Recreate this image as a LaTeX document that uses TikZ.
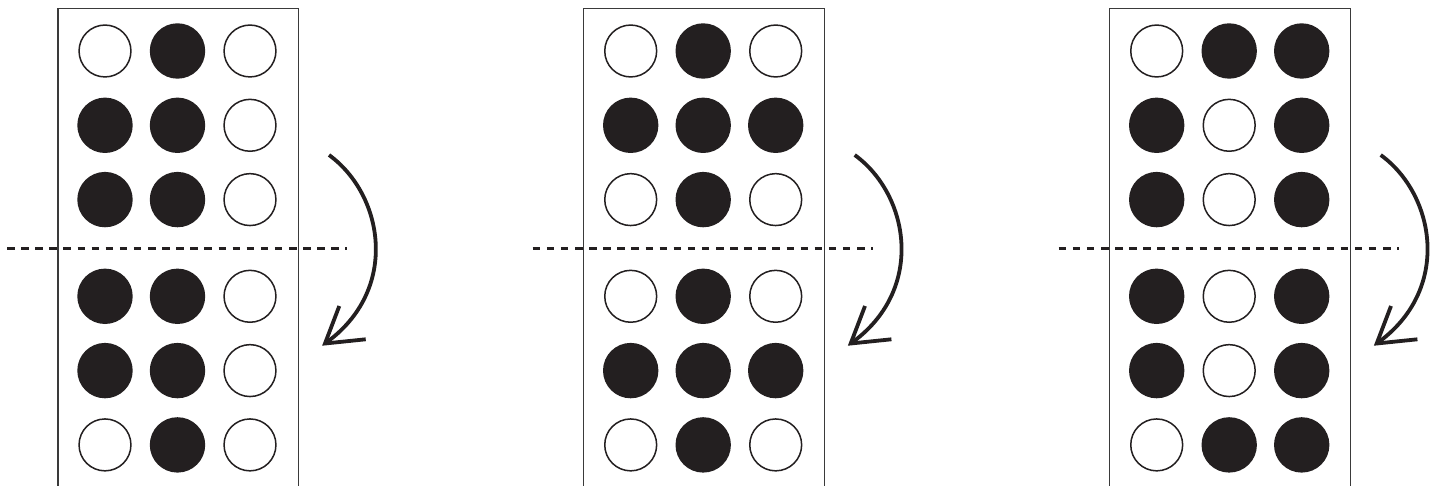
\documentclass[tikz,border=0pt]{standalone}
\usetikzlibrary{calc}
\definecolor{ink}{HTML}{231F20}
\definecolor{boxline}{HTML}{3A3A3A}
\tikzset{
  dotbase/.style={circle, inner sep=0pt, outer sep=0pt},
  dotfull/.style={dotbase, fill=ink, minimum size=55.4pt},
  dotempty/.style={dotbase, draw=ink, line width=1.5pt, fill=white, minimum size=51.9pt},
  cellbox/.style={draw=boxline, line width=1.5pt},
  foldline/.style={draw=ink, line width=2.6pt, dash pattern=on 7.5pt off 6.6pt},
  turnarrow/.style={draw=ink, line width=3.8pt},
}
\begin{document}
\begin{tikzpicture}[x=1pt,y=-1pt]
\useasboundingbox[fill=white] (0,0) rectangle (1440,486);
\foreach \off/\n/\cells in {
  0/A/{1/1/empty,1/2/full,1/3/empty,2/1/full,2/2/full,2/3/empty,3/1/full,3/2/full,3/3/empty,4/1/full,4/2/full,4/3/empty,5/1/full,5/2/full,5/3/empty,6/1/empty,6/2/full,6/3/empty},
  525.7/B/{1/1/empty,1/2/full,1/3/empty,2/1/full,2/2/full,2/3/full,3/1/empty,3/2/full,3/3/empty,4/1/empty,4/2/full,4/3/empty,5/1/full,5/2/full,5/3/full,6/1/empty,6/2/full,6/3/empty},
  1051.7/C/{1/1/empty,1/2/full,1/3/full,2/1/full,2/2/empty,2/3/full,3/1/full,3/2/empty,3/3/full,4/1/full,4/2/empty,4/3/full,5/1/full,5/2/empty,5/3/full,6/1/empty,6/2/full,6/3/full}%
}{
  \begin{scope}[xshift=\off pt]
    % box (open at the bottom, runs off the page)
    \coordinate (\n-bl) at (58,492);
    \coordinate (\n-tl) at (58,8.7);
    \coordinate (\n-tr) at (298.7,8.7);
    \coordinate (\n-br) at (298.7,492);
    \draw[cellbox] (\n-bl) -- (\n-tl) -- (\n-tr) -- (\n-br);
    % dots
    \foreach \r/\c/\f in \cells {
      \pgfmathsetmacro{\dx}{105+(\c-1)*72.5}
      \pgfmathsetmacro{\dy}{51+(\r-1)*74.3+(\r>3)*22.4}
      \node[dot\f] (\n-\r-\c) at (\dx,\dy) {};
    }
    % fold line
    \coordinate (\n-dl) at (7,248.7);
    \coordinate (\n-dr) at (347,248.7);
    \draw[foldline] (\n-dl) -- (\n-dr);
    % turning arrow
    \coordinate (\n-as) at (329,155);
    \coordinate (\n-ae) at (325,343.5);
    \draw[turnarrow] (\n-as) .. controls +(55,40) and +(75,-53) .. (\n-ae);
    \draw[turnarrow, line join=miter, miter limit=10] ($(\n-ae)+(14.3,-37.5)$) -- (\n-ae) -- ($(\n-ae)+(40.7,-4.2)$);
  \end{scope}
}
\end{tikzpicture}
\end{document}
